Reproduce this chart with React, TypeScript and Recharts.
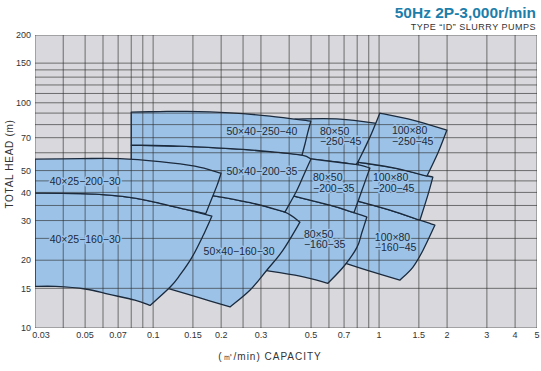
import React from "react";
import { ScatterChart, Scatter, XAxis, YAxis, CartesianGrid } from "recharts";

const FONT = "'Liberation Sans', Arial, Helvetica, sans-serif";
const BLUE = "#9cc3e7";
const EDGE = "#1b2a3d";

// axis ticks (capacity m³/min, total head m)
const xTicks = [0.03, 0.05, 0.07, 0.1, 0.15, 0.2, 0.3, 0.5, 0.7, 1, 1.5, 2, 3, 4, 5];
const yTicks = [10, 15, 20, 30, 40, 50, 70, 100, 150, 200];

// printed grid
const xGrid = [0.03, 0.04, 0.05, 0.06, 0.07, 0.08, 0.09, 0.1, 0.15, 0.2, 0.25, 0.3, 0.4, 0.5, 0.6, 0.7, 0.8, 0.9, 1, 1.5, 2, 3, 4, 5];
const yGrid = [10, 15, 20, 25, 30, 35, 40, 45, 50, 60, 70, 80, 90, 100, 110, 120, 130, 140, 150, 200];

// pump ranges, outline edges of [capacity, head]
const p40x25_200 = [
  [[0.03, 56.2], [0.0475, 56.5], [0.0713, 56.5], [0.107, 54.8], [0.153, 52.3], [0.2, 48.7]],
  [[0.2, 48.7], [0.192, 43.1], [0.182, 37.7], [0.171, 32.2]],
  [[0.171, 32.2], [0.138, 33.7], [0.107, 35.8], [0.083, 37.7], [0.064, 38.9], [0.0475, 39.5], [0.03, 39.7]],
  [[0.03, 39.7], [0.03, 56.2]],
];
const p40x25_160 = [
  [[0.03, 39.7], [0.0475, 39.5], [0.064, 38.9], [0.083, 37.7], [0.107, 35.8], [0.138, 33.7], [0.182, 31.4]],
  [[0.182, 31.4], [0.166, 25.6], [0.1485, 20.6], [0.1315, 17.2], [0.119, 15.2], [0.097, 12.6]],
  [[0.097, 12.6], [0.083, 13.3], [0.064, 14.1], [0.05, 14.9], [0.037, 15.3], [0.03, 15.3]],
  [[0.03, 15.3], [0.03, 39.7]],
];
const p50x40_250 = [
  [[0.08, 90.9], [0.107, 91.4], [0.141, 91.6], [0.219, 90.2], [0.329, 87.3], [0.499, 82.9]],
  [[0.499, 82.9], [0.484, 74.1], [0.47, 65.6], [0.456, 58.6]],
  [[0.456, 58.6], [0.329, 60.7], [0.219, 62.6], [0.1315, 64.2], [0.08, 64.9]],
  [[0.08, 64.9], [0.08, 90.9]],
];
const p50x40_200 = [
  [[0.08, 64.9], [0.1315, 64.2], [0.219, 62.6], [0.329, 60.7], [0.456, 58.6], [0.499, 56.2]],
  [[0.499, 56.2], [0.47, 49.2], [0.433, 40.9], [0.383, 32.7]],
  [[0.383, 32.7], [0.2765, 35.8], [0.178, 38.9]],
  [[0.178, 38.9], [0.08, 54.0]],
  [[0.08, 54.0], [0.08, 64.9]],
];
const p50x40_160 = [
  [[0.178, 38.9], [0.2765, 35.8], [0.383, 32.7], [0.4465, 29.5]],
  [[0.4465, 29.5], [0.375, 22.1], [0.319, 18.1], [0.268, 14.7], [0.219, 12.4]],
  [[0.219, 12.4], [0.161, 13.6], [0.116, 15.0]],
  [[0.116, 15.0], [0.138, 22.1], [0.17, 37.0], [0.178, 38.9]],
];
const p80x50_250 = [
  [[0.424, 84.7], [0.671, 84.7], [1.04, 80.4]],
  [[1.04, 80.4], [0.958, 68.3], [0.79, 53.1]],
  [[0.79, 53.1], [0.671, 54.3], [0.47, 56.8], [0.456, 58.6]],
  [[0.456, 58.6], [0.4465, 61.7], [0.424, 84.7]],
];
const p80x50_200 = [
  [[0.47, 56.8], [0.671, 54.3], [0.823, 52.9], [0.911, 51.3]],
  [[0.911, 51.3], [0.84, 40.9], [0.774, 32.5]],
  [[0.774, 32.5], [0.606, 35.1], [0.403, 38.9]],
  [[0.403, 38.9], [0.433, 52.9], [0.47, 56.8]],
];
const p80x50_160 = [
  [[0.403, 38.9], [0.606, 35.1], [0.883, 31.1]],
  [[0.883, 31.1], [0.84, 26.6], [0.798, 22.8], [0.699, 18.8], [0.594, 15.8]],
  [[0.594, 15.8], [0.4465, 17.0], [0.303, 18.1]],
  [[0.303, 18.1], [0.346, 22.1], [0.3715, 32.7], [0.403, 38.9]],
];
const p100x80_250 = [
  [[1.008, 90.0], [1.41, 83.8], [1.996, 75.6]],
  [[1.996, 75.6], [1.821, 59.8], [1.628, 47.2]],
  [[1.628, 47.2], [1.175, 51.3], [0.806, 54.5]],
  [[0.806, 54.5], [0.911, 70.4], [1.008, 90.0]],
];
const p100x80_200 = [
  [[0.806, 54.5], [1.175, 51.3], [1.73, 46.8]],
  [[1.73, 46.8], [1.644, 38.9], [1.516, 30.1]],
  [[1.516, 30.1], [1.117, 33.4], [0.76, 37.2]],
  [[0.76, 37.2], [0.823, 45.4], [0.806, 54.5]],
];
const p100x80_160 = [
  [[0.743, 37.4], [1.117, 33.4], [1.766, 28.6]],
  [[1.766, 28.6], [1.563, 22.1], [1.41, 18.6], [1.236, 16.3]],
  [[1.236, 16.3], [0.911, 17.9], [0.706, 19.4]],
  [[0.706, 19.4], [0.671, 19.4], [0.743, 24.5], [0.728, 31.7], [0.743, 37.4]],
];

// back to front
const ranges = [
  p100x80_160, p80x50_160, p80x50_250, p100x80_200, p80x50_200,
  p100x80_250, p50x40_160, p50x40_200, p50x40_250, p40x25_160, p40x25_200,
];

const labels: [number, number, string[]][] = [
  [0.05, 44.8, ["40×25−200−30"]],
  [0.05, 24.8, ["40×25−160−30"]],
  [0.303, 74.8, ["50×40−250−40"]],
  [0.303, 49.4, ["50×40−200−35"]],
  [0.24, 21.9, ["50×40−160−30"]],
  [0.547, 71.1, ["80×50", "−250−45"]],
  [0.51, 44.1, ["80×50", "−200−35"]],
  [0.465, 24.7, ["80×50", "−160−35"]],
  [1.14, 71.5, ["100×80", "−250−45"]],
  [0.939, 44.1, ["100×80", "−200−45"]],
  [0.958, 24.0, ["100×80", "−160−45"]],
];

type Pt = { x: number; y: number };

function outline(points: Pt[], edges: number[][][]) {
  let d = "";
  let k = 0;
  edges.forEach((edge, ei) => {
    const s = points.slice(k, k + edge.length);
    k += edge.length;
    if (ei === 0) d += `M${s[0].x},${s[0].y}`;
    for (let i = 0; i < s.length - 1; i++) {
      const p0 = s[Math.max(i - 1, 0)];
      const p1 = s[i];
      const p2 = s[i + 1];
      const p3 = s[Math.min(i + 2, s.length - 1)];
      const c1x = p1.x + (p2.x - p0.x) / 6;
      const c1y = p1.y + (p2.y - p0.y) / 6;
      const c2x = p2.x - (p3.x - p1.x) / 6;
      const c2y = p2.y - (p3.y - p1.y) / 6;
      d += `C${c1x},${c1y} ${c2x},${c2y} ${p2.x},${p2.y}`;
    }
  });
  return d + "Z";
}

const noDot = () => <g />;

const gridLines = (lp: any) => {
  const pts: Pt[] = lp.points;
  let d = "";
  for (let i = 0; i + 1 < pts.length; i += 2) {
    d += `M${pts[i].x},${pts[i].y}L${pts[i + 1].x},${pts[i + 1].y}`;
  }
  return <path d={d} stroke="#2e2e2e" strokeWidth={0.8} strokeOpacity={0.8} fill="none" />;
};

const renderLabel = (p: any) => {
  const { cx, cy, payload } = p;
  const lines: string[] = payload.lines;
  const anchor = lines.length > 1 ? "start" : "middle";
  return (
    <text
      textAnchor={anchor}
      fontSize={10.5}
      fontFamily={FONT}
      fill="#1b2a3c"
      stroke={BLUE}
      strokeWidth={3}
      strokeLinejoin="round"
      paintOrder="stroke"
    >
      {lines.map((l, i) => (
        <tspan key={i} x={cx} y={cy + (i - (lines.length - 1) / 2) * 10.5} dy="0.35em">
          {l}
        </tspan>
      ))}
    </text>
  );
};

// first capacity label sits just right of the corner, as printed
const XTick = (p: any) => {
  const { x, y, payload } = p;
  const dx = payload.value === xTicks[0] ? 6 : 0;
  return (
    <text x={x + dx} y={y} dy="0.71em" textAnchor="middle" fontSize={9} fill="#333" fontFamily={FONT}>
      {payload.value}
    </text>
  );
};

const vData = xGrid.flatMap((v) => [{ x: v, y: 10 }, { x: v, y: 200 }]);
const hData = yGrid.flatMap((v) => [{ x: 0.03, y: v }, { x: 5, y: v }]);
const labelData = labels.map(([x, y, lines]) => ({ x, y, lines }));

export default function App() {
  return (
    <div style={{ position: "absolute", left: 0, top: 0, width: 541, height: 371, background: "#fff", fontFamily: FONT }}>
      <div style={{ position: "absolute", right: 5, top: 4, fontSize: 15.5, fontWeight: 700, color: "#1d7eaa", lineHeight: "18px" }}>
        50Hz 2P-3,000r/min
      </div>
      <div style={{ position: "absolute", right: 5, top: 22, fontSize: 9, letterSpacing: 0.5, color: "#333", lineHeight: "11px" }}>
        TYPE “ID” SLURRY PUMPS
      </div>
      <div
        style={{
          position: "absolute",
          left: 9,
          top: 164,
          fontSize: 10,
          letterSpacing: 0.7,
          color: "#333",
          whiteSpace: "nowrap",
          transform: "translate(-50%, -50%) rotate(-90deg)",
        }}
      >
        TOTAL HEAD (m)
      </div>
      <div style={{ position: "absolute", left: 270, top: 357, fontSize: 10, letterSpacing: 1, color: "#333", whiteSpace: "nowrap", transform: "translate(-50%, -50%)" }}>
        (㎥/min) CAPACITY
      </div>
      <ScatterChart width={541} height={371} margin={{ top: 35, right: 4, left: 5, bottom: 23 }}>
        <CartesianGrid fill="#d9d9dd" horizontal={false} vertical={false} />
        <XAxis
          type="number"
          dataKey="x"
          scale="log"
          domain={[0.03, 5]}
          allowDataOverflow
          ticks={xTicks}
          interval={0}
          tickLine={false}
          axisLine={false}
          tickSize={2}
          tickMargin={2}
          height={20}
          tick={<XTick />}
        />
        <YAxis
          type="number"
          dataKey="y"
          scale="log"
          domain={[10, 200]}
          allowDataOverflow
          ticks={yTicks}
          interval={0}
          tickLine={false}
          axisLine={false}
          tickSize={2}
          tickMargin={2}
          width={30}
          tick={{ fontSize: 9, fill: "#333", fontFamily: FONT }}
        />
        {ranges.map((edges, i) => (
          <Scatter
            key={i}
            data={edges.flat().map(([x, y]) => ({ x, y }))}
            isAnimationActive={false}
            shape={noDot}
            legendType="none"
            line={(lp: any) => (
              <path d={outline(lp.points, edges)} fill={BLUE} stroke={EDGE} strokeWidth={1.3} strokeLinejoin="round" />
            )}
          />
        ))}
        <Scatter data={vData} isAnimationActive={false} shape={noDot} legendType="none" line={gridLines} />
        <Scatter data={hData} isAnimationActive={false} shape={noDot} legendType="none" line={gridLines} />
        <Scatter data={labelData} isAnimationActive={false} shape={renderLabel} legendType="none" />
      </ScatterChart>
    </div>
  );
}
